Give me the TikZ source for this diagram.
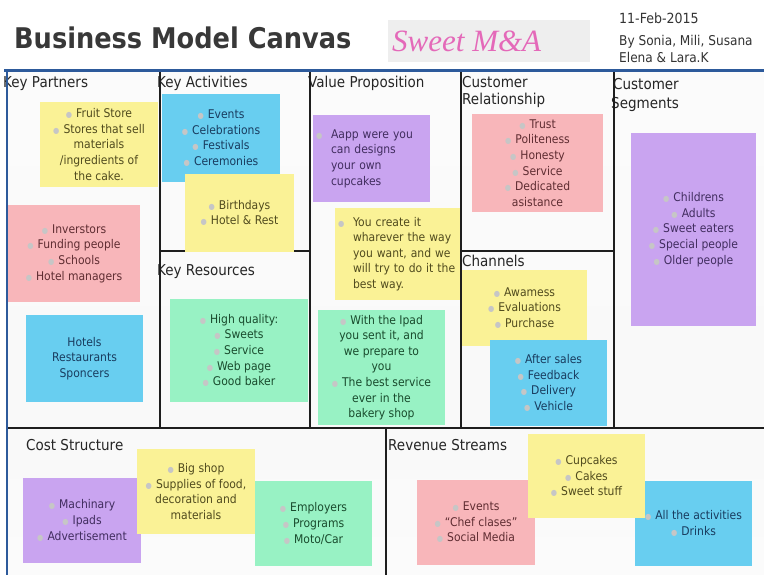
\documentclass[tikz,border=0pt]{standalone}
\usepackage{fontspec}
\setmainfont[FakeStretch=0.9]{DejaVu Sans}
\newfontfamily\sweetfont{Liberation Serif}
\definecolor{ny}{RGB}{250,242,150}
\definecolor{np}{RGB}{248,182,186}
\definecolor{nb}{RGB}{104,206,240}
\definecolor{ng}{RGB}{152,242,196}
\definecolor{nv}{RGB}{201,164,240}
\definecolor{ty}{RGB}{80,75,30}
\definecolor{tp}{RGB}{95,45,50}
\definecolor{tb}{RGB}{25,60,95}
\definecolor{tg}{RGB}{25,75,45}
\definecolor{tv}{RGB}{65,45,95}
\definecolor{framecol}{RGB}{45,90,155}
\definecolor{gridcol}{RGB}{30,30,30}
\definecolor{sweetpink}{RGB}{228,105,185}
\newcommand\notefont{\fontsize{12}{15.6}\selectfont}
\newcommand\bu{{\color{gray!45}\fontsize{8}{8}\selectfont ●}\hspace{4pt}}
\newcommand\bl{\makebox[15pt][l]{\color{gray!45}\fontsize{8}{8}\selectfont ●}}
\newcommand\ind{\hspace*{15pt}}
\begin{document}
\begin{tikzpicture}[x=1pt,y=-1pt,
  hdr/.style={font=\fontsize{15}{17}\selectfont, text=black!85, inner sep=0pt, anchor=base west},
  wh/.style 2 args={minimum width=#1, minimum height=#2},
  note/.style={inner sep=2pt, align=center, font=\notefont},
  yn/.style={note, fill=ny, text=ty},
  pn/.style={note, fill=np, text=tp},
  bn/.style={note, fill=nb, text=tb},
  gn/.style={note, fill=ng, text=tg},
  vn/.style={note, fill=nv, text=tv},
  gridline/.style={draw=gridcol, line width=1.6pt}]
\useasboundingbox (0,0) rectangle (764,575);
\fill[white] (0,0) rectangle (764,575);
% canvas background
\shade[top color=gray!3, middle color=gray!18, bottom color=gray!5] (7,72) rectangle (764,428);
\shade[top color=gray!5, middle color=gray!18, bottom color=gray!3] (7,428) rectangle (764,575);
% title area
\node[anchor=base west, font=\bfseries\fontsize{28.5}{31}\selectfont, text=black!78, inner sep=0pt] (title) at (14,49) {Business Model Canvas};
\node[fill=gray!13, minimum width=202, minimum height=42, inner sep=0pt] (sweetbox) at (489,41) {};
\node[anchor=base west, font=\sweetfont\itshape\fontsize{31}{33}\selectfont, text=sweetpink, inner sep=0pt] (sweet) at (392,52) {Sweet M\&A};
\node[anchor=base west, font=\fontsize{14}{16}\selectfont, text=black!80, inner sep=0pt] (date) at (619,24) {11-Feb-2015};
\node[anchor=base west, font=\fontsize{13.5}{16}\selectfont, text=black!80, inner sep=0pt] (by1) at (619,46) {By Sonia, Mili, Susana};
\node[anchor=base west, font=\fontsize{13.5}{16}\selectfont, text=black!80, inner sep=0pt] (by2) at (619,63) {Elena \& Lara.K};
% headers
\node[hdr] (hkp) at (3,88) {Key Partners};
\node[hdr] (hka) at (157,88) {Key Activities};
\node[hdr] (hvp) at (308,88) {Value Proposition};
\node[hdr] (hcr1) at (462,88) {Customer};
\node[hdr] (hcr2) at (462,105) {Relationship};
\node[hdr] (hcs1) at (613,90) {Customer};
\node[hdr] (hcs2) at (611,109) {Segments};
\node[hdr] (hkr) at (157,276) {Key Resources};
\node[hdr] (hch) at (462,266) {Channels};
\node[hdr] (hco) at (26,450) {Cost Structure};
\node[hdr] (hrs) at (388,450) {Revenue Streams};
% grid
\draw[gridline] (160,72) -- (160,428);
\draw[gridline] (310,72) -- (310,428);
\draw[gridline] (461,72) -- (461,428);
\draw[gridline] (614,72) -- (614,428);
\draw[gridline] (160,251) -- (310,251);
\draw[gridline] (461,251) -- (614,251);
\draw[gridline, line width=2pt] (7,428) -- (764,428);
\draw[gridline] (386,428) -- (386,575);
% Key Partners
\node[yn, wh={118}{85}] (kp1) at (99,144.5) {\bu Fruit Store\\ \bu Stores that sell\\ materials\\ /ingredients of\\ the cake.};
\node[pn, wh={132}{97}] (kp2) at (74,253.5) {\bu Inverstors\\ \bu Funding people\\ \bu Schools\\ \bu Hotel managers};
\node[bn, wh={117}{87}] (kp3) at (84.5,358.5) {Hotels\\ Restaurants\\ Sponcers};
% Key Activities
\node[bn, wh={118}{88}] (ka1) at (221,138) {\bu Events\\ \bu Celebrations\\ \bu Festivals\\ \bu Ceremonies};
\node[yn, wh={109}{78}] (ka2) at (239.5,213) {\bu Birthdays\\ \bu Hotel \& Rest};
% Key Resources
\node[gn, wh={138}{103}] (kr1) at (239,350.5) {\bu High quality:\\ \bu Sweets\\ \bu Service\\ \bu Web page\\ \bu Good baker};
% Value Proposition
\node[vn, wh={117}{87}, align=left, text width=111, inner sep=3pt] (vp1) at (371.5,158.5) {\bl\mbox{Aapp were you}\\ \ind\mbox{can designs}\\ \ind\mbox{your own}\\ \ind\mbox{cupcakes}};
\node[yn, wh={125}{92}, align=left, text width=119, inner sep=3pt] (vp2) at (397.5,254) {\bl\mbox{You create it}\\ \ind\mbox{wharever the way}\\ \ind\mbox{you want, and we}\\ \ind\mbox{will try to do it the}\\ \ind\mbox{best way.}};
\node[gn, wh={127}{115}] (vp3) at (381.5,367.5) {\bu With the Ipad\\ you sent it, and\\ we prepare to\\ you\\ \bu The best service\\ ever in the\\ bakery shop};
% Customer Relationship
\node[pn, wh={131}{98}] (cr1) at (537.5,163) {\bu Trust\\ \bu Politeness\\ \bu Honesty\\ \bu Service\\ \bu Dedicated\\ asistance};
% Channels
\node[yn, wh={125}{76}] (ch1) at (524.5,308) {\bu Awamess\\ \bu Evaluations\\ \bu Purchase};
\node[bn, wh={117}{86}] (ch2) at (548.5,383) {\bu After sales\\ \bu Feedback\\ \bu Delivery\\ \bu Vehicle};
% Customer Segments
\node[vn, wh={125}{193}] (cs1) at (693.5,229.5) {\bu Childrens\\ \bu Adults\\ \bu Sweet eaters\\ \bu Special people\\ \bu Older people};
% Cost Structure
\node[vn, wh={118}{85}] (co1) at (82,520.5) {\bu Machinary\\ \bu Ipads\\ \bu Advertisement};
\node[yn, wh={118}{85}] (co2) at (196,491.5) {\bu Big shop\\ \bu Supplies of food,\\ decoration and\\ materials};
\node[gn, wh={117}{85}] (co3) at (313.5,523.5) {\bu Employers\\ \bu Programs\\ \bu Moto/Car};
% Revenue Streams
\node[pn, wh={118}{85}] (rs1) at (476,522.5) {\bu Events\\ \bu “Chef clases”\\ \bu Social Media};
\node[bn, wh={117}{85}] (rs3) at (693.5,523.5) {\bu All the activities\\ \bu Drinks};
\node[yn, wh={117}{84}] (rs2) at (586.5,476) {\bu Cupcakes\\ \bu Cakes\\ \bu Sweet stuff};
% frame
\draw[framecol, line width=3pt] (4,71) -- (764,71);
\draw[framecol, line width=2.5pt] (7,71) -- (7,575);
\end{tikzpicture}
\end{document}
